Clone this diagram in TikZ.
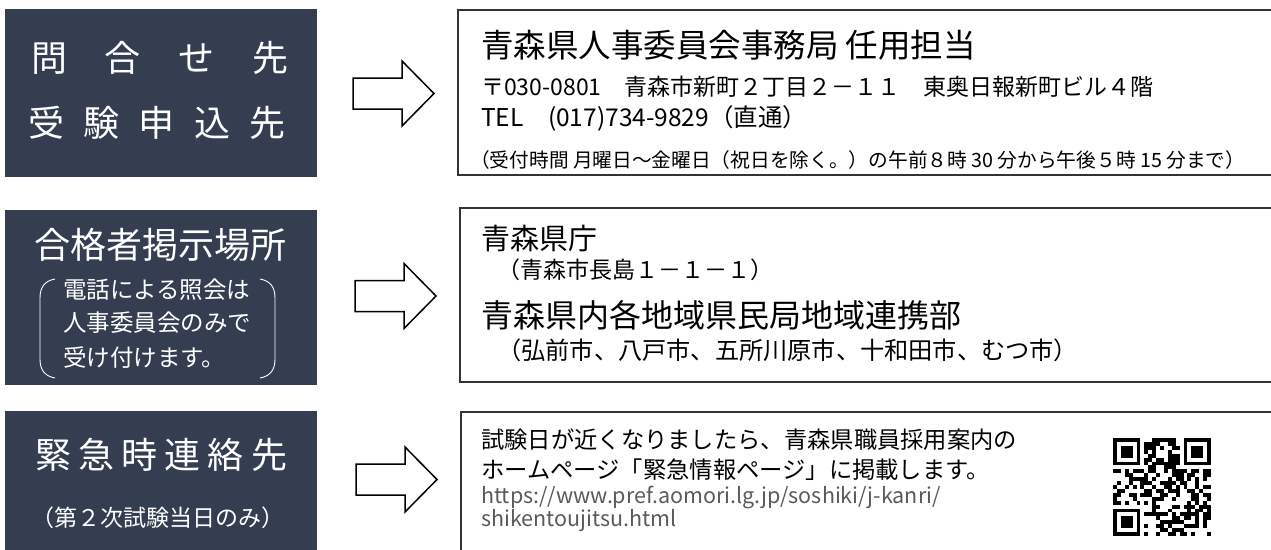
\documentclass[tikz,border=0pt]{standalone}
\usepackage{fontspec}
\setmainfont{Noto Sans CJK JP}
\definecolor{boxnavy}{RGB}{52,62,80}
\definecolor{urlgray}{RGB}{90,90,90}
\newcommand\fsz[1]{\fontsize{#1}{#1}\selectfont}
\tikzset{
  darkbox/.style={fill=boxnavy, draw=none, inner sep=0pt},
  infobox/.style={draw=black!80, line width=1.3pt},
  arrowline/.style={draw=black, fill=white, line width=1.5pt, line join=miter},
  fatarrow/.pic={
    \draw[arrowline] (0,-15.5) -- (49,-15.5) -- (49,-32.5) -- (81,0)
      -- (49,32.5) -- (49,15.5) -- (0,15.5) -- cycle;
  },
  boxtxt/.style={text=white, inner sep=0pt},
  infotxt/.style={anchor=west, inner sep=0pt},
  bracket/.style={draw=white, line width=0.9pt}
}

\begin{document}
\begin{tikzpicture}[x=1pt, y=-1pt]

\useasboundingbox (0,0) rectangle (1271,549);

% left side
\node[darkbox, minimum width=312pt, minimum height=168pt] (ask) at (161,93) {};
\node[darkbox, minimum width=312pt, minimum height=175pt] (board) at (161,297) {};
\node[darkbox, minimum width=312pt, minimum height=150pt] (urgent) at (161,486) {};

\node[boxtxt] (askA) at (160,58) {\fsz{36pt}\makebox[258pt]{問\hfill 合\hfill せ\hfill 先}};
\node[boxtxt] (askB) at (157,123) {\fsz{36pt}\makebox[258pt]{受\hfill 験\hfill 申\hfill 込\hfill 先}};

\node[boxtxt] (boardA) at (160,245) {\fsz{36pt}合格者掲示場所};
\node[boxtxt, anchor=west] (boardB) at (63,290) {\fsz{23.5pt}電話による照会は};
\node[boxtxt, anchor=west] (boardC) at (63,323) {\fsz{23.5pt}人事委員会のみで};
\node[boxtxt, anchor=west] (boardD) at (63,358) {\fsz{23.5pt}受け付けます。};
\draw[bracket] (55,279) .. controls (44,281) and (40,288) .. (40,298) -- (40,359)
  .. controls (40,369) and (44,376) .. (55,378);
\draw[bracket] (260,279) .. controls (271,281) and (275,288) .. (275,298) -- (275,359)
  .. controls (275,369) and (271,376) .. (260,378);

\node[boxtxt] (urgentA) at (161,455) {\fsz{36pt}\makebox[252pt]{緊\hfill 急\hfill 時\hfill 連\hfill 絡\hfill 先}};
\node[boxtxt] (urgentB) at (158,518) {\fsz{23pt}（第２次試験当日のみ）};

% arrows
\pic (arrA) at (353,93.5) {fatarrow};
\pic (arrB) at (355,296) {fatarrow};
\pic (arrC) at (356,479.5) {fatarrow};

% right side
\draw[infobox] (458,10) rectangle (1290,175);
\draw[infobox] (460,208) rectangle (1290,382);
\draw[infobox] (461,412) rectangle (1290,570);

\node[infotxt] (officeA) at (481,45) {\fsz{32.5pt}青森県人事委員会事務局 任用担当};
\node[infotxt] (officeB) at (481,87) {\fsz{23pt}〒030-0801　青森市新町２丁目２－１１　東奥日報新町ビル４階};
\node[infotxt] (officeC) at (481,118) {\fsz{24.5pt}TEL　(017)734-9829（直通）};
\node[infotxt] (officeD) at (470,160) {\fsz{19.7pt}（受付時間 月曜日～金曜日（祝日を除く。）の午前８時 30 分から午後５時 15 分まで）};

\node[infotxt] (placeA) at (481,238) {\fsz{29pt}青森県庁};
\node[infotxt] (placeB) at (497,270) {\fsz{23pt}（青森市長島１－１－１）};
\node[infotxt] (placeC) at (481,315) {\fsz{32pt}青森県内各地域県民局地域連携部};
\node[infotxt] (placeD) at (497,350) {\fsz{24.2pt}（弘前市、八戸市、五所川原市、十和田市、むつ市）};

\node[infotxt] (noticeA) at (481,440) {\fsz{23.3pt}試験日が近くなりましたら、青森県職員採用案内の};
\node[infotxt] (noticeB) at (481,470) {\fsz{23.3pt}ホームページ「緊急情報ページ」に掲載します。};
\node[infotxt, text=urlgray] (noticeC) at (481,497) {\fsz{21.5pt}https://www.pref.aomori.lg.jp/soshiki/j-kanri/};
\node[infotxt, text=urlgray] (noticeD) at (481,521) {\fsz{21.5pt}shikentoujitsu.html};

% qr code
\pgfmathsetseed{2024}
\foreach \r in {0,...,24}{
  \foreach \c in {0,...,24}{
    \pgfmathrandominteger{\b}{0}{1}
    \pgfmathtruncatemacro{\keep}{((\r<8 && \c<8) || (\r<8 && \c>16) || (\r>16 && \c<8)) ? 0 : \b}
    \ifnum\keep=1
      \fill (1113+3.92*\c,438+3.92*\r) rectangle ++(3.92,3.92);
    \fi
  }
}
\foreach \c/\r in {0/0, 18/0, 0/18}{
  \fill (1113+3.92*\c,438+3.92*\r) rectangle ++(27.44,27.44);
  \fill[white] (1113+3.92*\c+3.92,438+3.92*\r+3.92) rectangle ++(19.6,19.6);
  \fill (1113+3.92*\c+7.84,438+3.92*\r+7.84) rectangle ++(11.76,11.76);
}

\end{tikzpicture}
\end{document}
